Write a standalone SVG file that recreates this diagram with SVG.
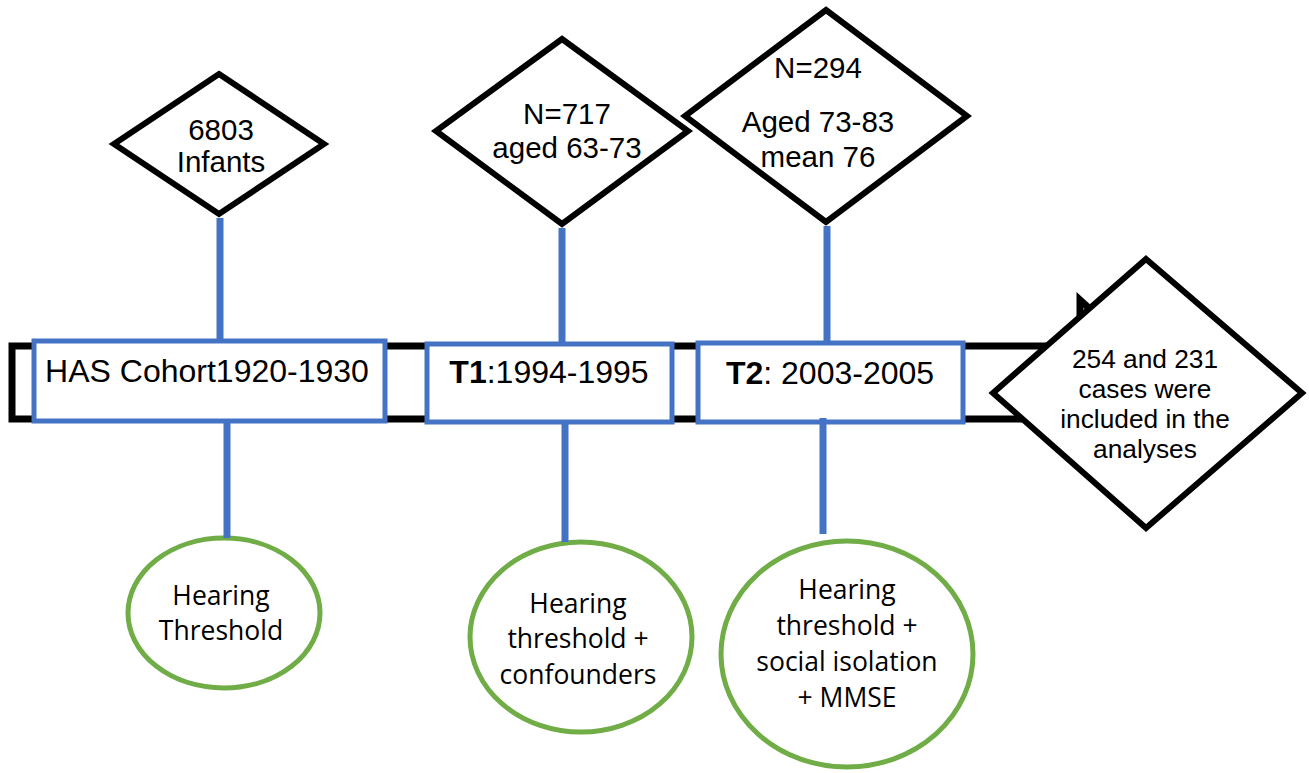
<svg xmlns="http://www.w3.org/2000/svg" width="1309" height="773" viewBox="0 0 1309 773">
  <style>
    .bar { fill: #ffffff; stroke: #000000; stroke-width: 7; stroke-linejoin: miter; }
    .box { fill: #ffffff; stroke: #4472C4; stroke-width: 5; }
    .dia { fill: #ffffff; stroke: #000000; stroke-width: 6; stroke-linejoin: miter; }
    .oval { fill: #ffffff; stroke: #70AD47; stroke-width: 5; }
    .link { stroke: #4472C4; stroke-width: 7; fill: none; }
    .t { font-family: "Liberation Sans", Arial, sans-serif; fill: #000000; text-anchor: middle; }
    .c { font-family: "Open Sans", "Noto Sans", sans-serif; fill: #000000; text-anchor: middle; font-size: 26.5px; }
    .b { font-weight: bold; }
  </style>

  <!-- timeline block arrow (head mostly hidden under the final diamond) -->
  <g id="timeline">
    <path class="bar" d="M12,346 H1080 V300 L1170,382 L1080,455 V419 H12 Z"/>
  </g>

  <!-- period boxes -->
  <g id="box-has">
    <rect class="box" x="34" y="341" width="351" height="80"/>
    <text class="t" x="207" y="382" font-size="32">HAS Cohort1920-1930</text>
  </g>
  <g id="box-t1">
    <rect class="box" x="427" y="344" width="245" height="78"/>
    <text class="t" x="549" y="383" font-size="32"><tspan class="b">T1</tspan>:1994-1995</text>
  </g>
  <g id="box-t2">
    <rect class="box" x="698" y="343" width="265" height="79"/>
    <text class="t" x="830" y="384" font-size="32"><tspan class="b">T2</tspan>: 2003-2005</text>
  </g>

  <!-- sample size diamonds -->
  <g id="dia-infants">
    <polygon class="dia" points="219,74 324,144 219,214 114,144"/>
    <text class="t" x="221" y="140" font-size="29.5">6803</text>
    <text class="t" x="221" y="172" font-size="29.5">Infants</text>
  </g>
  <g id="dia-t1">
    <polygon class="dia" points="562,39 688,131 562,224 436,131"/>
    <text class="t" x="567" y="124" font-size="29.5">N=717</text>
    <text class="t" x="567" y="158" font-size="29.5">aged 63-73</text>
  </g>
  <g id="dia-t2">
    <polygon class="dia" points="826,10 967,116 826,222 685,116"/>
    <text class="t" x="818" y="78" font-size="29.5">N=294</text>
    <text class="t" x="818" y="132" font-size="29.5">Aged 73-83</text>
    <text class="t" x="818" y="167" font-size="29.5">mean 76</text>
  </g>
  <g id="dia-analyses">
    <polygon class="dia" points="1146,259 1302,393 1146,528 993,393"/>
    <text class="t" x="1145" y="368" font-size="26.3">254 and 231</text>
    <text class="t" x="1145" y="398" font-size="26.3">cases were</text>
    <text class="t" x="1145" y="428" font-size="26.3">included in the</text>
    <text class="t" x="1145" y="458" font-size="26.3">analyses</text>
  </g>

  <!-- measures collected at each wave -->
  <g id="oval-baseline">
    <ellipse class="oval" cx="224" cy="613" rx="96" ry="75"/>
    <text class="c" x="221" y="605" font-size="25.5">Hearing</text>
    <text class="c" x="221" y="640" font-size="25.5">Threshold</text>
  </g>
  <g id="oval-t1">
    <ellipse class="oval" cx="581" cy="637" rx="111" ry="95"/>
    <text class="c" x="578" y="613">Hearing</text>
    <text class="c" x="578" y="648">threshold +</text>
    <text class="c" x="578" y="684">confounders</text>
  </g>
  <g id="oval-t2">
    <ellipse class="oval" cx="847" cy="654" rx="126" ry="113"/>
    <text class="c" x="847" y="599">Hearing</text>
    <text class="c" x="847" y="635">threshold +</text>
    <text class="c" x="847" y="671">social isolation</text>
    <text class="c" x="847" y="707">+ MMSE</text>
  </g>

  <!-- connectors -->
  <g id="connectors">
    <line class="link" x1="220" y1="218" x2="220" y2="339"/>
    <line class="link" x1="227" y1="423" x2="227" y2="538"/>
    <line class="link" x1="562" y1="228" x2="562" y2="342"/>
    <line class="link" x1="565" y1="424" x2="565" y2="542"/>
    <line class="link" x1="827" y1="226" x2="827" y2="341"/>
    <line class="link" x1="823" y1="418" x2="823" y2="534"/>
  </g>
</svg>
